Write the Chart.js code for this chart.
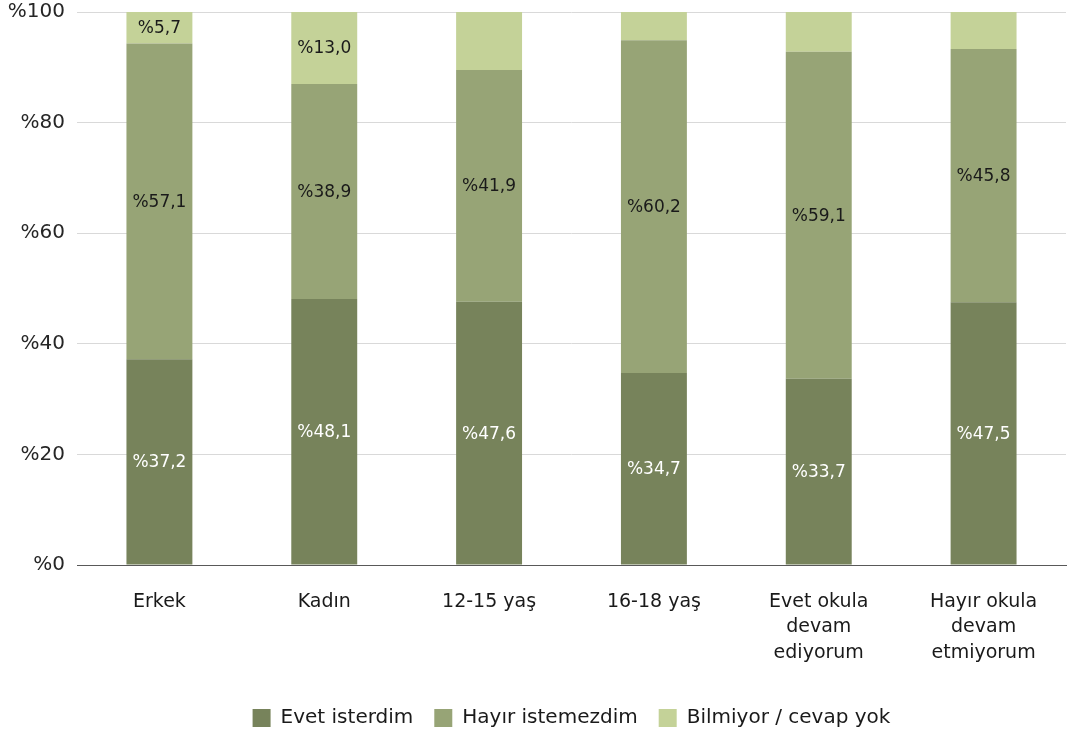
<!DOCTYPE html>
<html lang="tr">
<head>
    <meta charset="UTF-8">
    <title>Evet / Hayır</title>
    <script src="https://cdn.jsdelivr.net/npm/chart.js"></script>
    <style>
        body { margin: 0; padding: 0; background: #fff; }
        .wrap { width: 1071px; height: 736px; }
    </style>
</head>
<body>
    <div class="wrap"><canvas id="chart"></canvas></div>
    <script>
        var categories = [
            'Erkek',
            'Kadın',
            '12-15 yaş',
            '16-18 yaş',
            ['Evet okula', 'devam', 'ediyorum'],
            ['Hayır okula', 'devam', 'etmiyorum']
        ];
        var evetIsterdim = [37.2, 48.1, 47.6, 34.7, 33.7, 47.5];
        var hayirIstemezdim = [57.1, 38.9, 41.9, 60.2, 59.1, 45.8];
        var bilmiyor = [5.7, 13.0, 10.5, 5.1, 7.2, 6.7];
        // only these segments carry a label in the original
        var bilmiyorLabelShown = [true, true, false, false, false, false];
        var yTicks = [0, 20, 40, 60, 80, 100];

        var FONT = "'DejaVu Sans', sans-serif";

        function fmt(v) {
            return '%' + v.toFixed(1).replace('.', ',');
        }

        // simple inline label plugin (no datalabels available)
        var segmentLabels = {
            id: 'segmentLabels',
            afterDatasetsDraw: function(chart) {
                var ctx = chart.ctx;
                ctx.save();
                ctx.font = '17px ' + FONT;
                ctx.textAlign = 'center';
                ctx.textBaseline = 'middle';
                chart.data.datasets.forEach(function(ds, di) {
                    var meta = chart.getDatasetMeta(di);
                    meta.data.forEach(function(bar, i) {
                        if (ds.showLabel && !ds.showLabel[i]) return;
                        var p = bar.getProps(['x', 'y', 'base'], true);
                        ctx.fillStyle = ds.labelColor;
                        ctx.fillText(fmt(ds.data[i]), p.x, (p.y + p.base) / 2 + 1);
                    });
                });
                ctx.restore();
            }
        };

        var ctx = document.getElementById('chart').getContext('2d');
        var chart = new Chart(ctx, {
            type: 'bar',
            data: {
                labels: categories,
                datasets: [{
                    label: 'Evet isterdim',
                    data: evetIsterdim,
                    backgroundColor: '#77835b',
                    labelColor: '#ffffff'
                }, {
                    label: 'Hayır istemezdim',
                    data: hayirIstemezdim,
                    backgroundColor: '#97a476',
                    labelColor: '#1a1a1a'
                }, {
                    label: 'Bilmiyor / cevap yok',
                    data: bilmiyor,
                    backgroundColor: '#c4d298',
                    labelColor: '#1a1a1a',
                    showLabel: bilmiyorLabelShown
                }]
            },
            options: {
                responsive: true,
                maintainAspectRatio: false,
                animation: false,
                layout: { padding: { top: 12, right: 5, left: 0, bottom: -2 } },
                datasets: {
                    bar: { barPercentage: 0.4, categoryPercentage: 1.0, borderWidth: 0 }
                },
                plugins: {
                    legend: {
                        position: 'bottom',
                        fullSize: false,
                        labels: {
                            color: '#1a1a1a',
                            font: { family: FONT, size: 20 },
                            boxWidth: 18,
                            boxHeight: 18,
                            padding: 21
                        }
                    },
                    tooltip: { enabled: false }
                },
                scales: {
                    x: {
                        stacked: true,
                        grid: { display: false },
                        border: { color: '#595959', width: 1 },
                        ticks: {
                            color: '#1a1a1a',
                            font: { family: FONT, size: 19, lineHeight: 1.35 },
                            maxRotation: 0,
                            padding: 16
                        },
                        afterFit: function(scale) { scale.height = 122; }
                    },
                    y: {
                        stacked: true,
                        min: 0,
                        max: 100,
                        afterBuildTicks: function(scale) {
                            scale.ticks = yTicks.map(function(v) { return { value: v }; });
                        },
                        grid: { color: '#d9d9d9', drawTicks: false },
                        border: { display: false },
                        ticks: {
                            color: '#262626',
                            font: { family: FONT, size: 20 },
                            padding: 12,
                            callback: function(v) { return '%' + v; }
                        },
                        afterFit: function(scale) {
                            scale.width = 77;
                            scale.paddingTop = 0;
                        }
                    }
                }
            },
            plugins: [segmentLabels]
        });
    </script>
</body>
</html>
